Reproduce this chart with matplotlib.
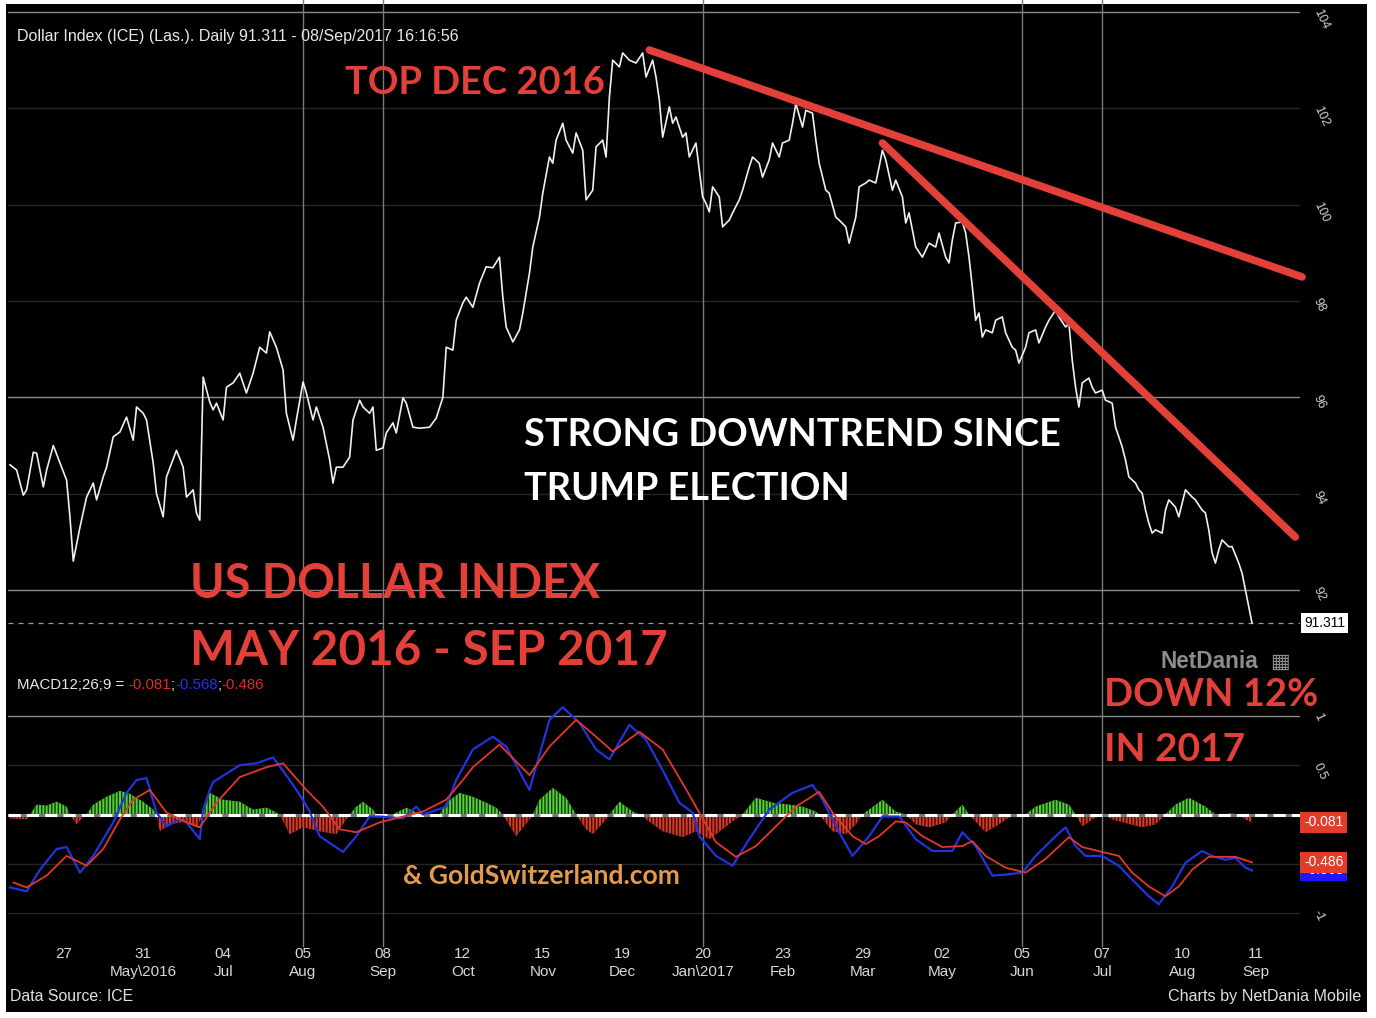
import numpy as np
import matplotlib
matplotlib.use('Agg')
import matplotlib.pyplot as plt
from matplotlib.patches import Rectangle
from matplotlib.transforms import blended_transform_factory as blend

plt.rcParams['font.family'] = ['Liberation Sans', 'DejaVu Sans']
plt.rcParams['hatch.linewidth'] = 1.0

W, H, DPI = 1376, 1018, 100

START = '2016-04-05'   # trading day 0 of the series

# ---- Dollar index, daily close (trading day index, value) ----
price_day = [0, 2, 4, 5, 7, 8, 10, 11, 13, 15,
             17, 18, 19, 21, 23, 25, 26, 28, 29, 31,
             33, 35, 37, 38, 40, 41, 43, 44, 46, 47,
             50, 52, 53, 55, 56, 57, 58, 60, 61, 62,
             64, 65, 67, 69, 71, 73, 75, 77, 78, 80,
             82, 83, 85, 86, 88, 89, 91, 92, 94, 96,
             97, 98, 100, 102, 103, 105, 106, 108, 109, 110,
             112, 113, 115, 116, 118, 119, 121, 123, 126, 128,
             130, 131, 133, 134, 136, 137, 139, 141, 143, 145,
             147, 148, 149, 151, 153, 154, 156, 157, 159, 160,
             162, 163, 164, 166, 167, 169, 170, 172, 173, 175,
             176, 178, 179, 180, 181, 183, 184, 186, 188, 190,
             191, 193, 194, 195, 196, 198, 199, 200, 202, 203,
             204, 206, 207, 208, 209, 210, 211, 213, 214, 216,
             217, 219, 220, 222, 223, 225, 226, 228, 229, 231,
             232, 234, 235, 236, 238, 239, 241, 242, 243, 245,
             246, 248, 249, 251, 252, 254, 255, 257, 258, 260,
             261, 262, 263, 265, 266, 268, 269, 270, 272, 274,
             276, 278, 279, 281, 282, 283, 284, 286, 287, 288,
             289, 290, 291, 292, 293, 295, 296, 298, 299, 301,
             302, 303, 305, 306, 308, 309, 311, 312, 314, 315,
             317, 318, 319, 320, 321, 322, 324, 325, 326, 328,
             329, 331, 332, 333, 334, 335, 336, 338, 339, 340,
             341, 342, 343, 344, 346, 347, 348, 350, 351, 352,
             353, 355, 356, 358, 359, 360, 361, 362, 363, 364,
             366, 367, 369, 370, 371, 372, 373]
price = [94.60, 94.49, 93.97, 94.08, 94.86, 94.84, 94.14, 94.49, 95.00, 94.64,
         94.28, 93.52, 92.60, 93.30, 93.93, 94.22, 93.87, 94.35, 94.55, 95.18,
         95.28, 95.59, 95.11, 95.80, 95.67, 95.53, 94.64, 94.00, 93.52, 94.35,
         94.90, 94.55, 93.93, 94.08, 93.60, 93.45, 96.42, 95.90, 95.74, 95.88,
         95.53, 96.21, 96.30, 96.50, 96.09, 96.50, 97.04, 96.92, 97.36, 97.04,
         96.57, 95.67, 95.11, 95.53, 96.32, 96.09, 95.53, 95.80, 95.38, 94.70,
         94.22, 94.55, 94.55, 94.76, 95.53, 95.94, 95.80, 95.67, 95.80, 94.90,
         94.95, 95.26, 95.47, 95.26, 95.99, 95.88, 95.38, 95.36, 95.38, 95.57,
         96.00, 97.04, 96.98, 97.60, 97.96, 98.08, 97.87, 98.37, 98.71, 98.69,
         98.91, 98.08, 97.46, 97.15, 97.40, 97.75, 98.58, 99.12, 99.74, 100.24,
         100.99, 100.86, 101.34, 101.69, 101.34, 101.07, 101.49, 101.13, 100.10, 100.30,
         101.20, 101.34, 100.99, 102.23, 103.00, 102.86, 103.15, 103.00, 102.94, 103.15,
         102.65, 103.00, 102.65, 102.17, 101.40, 102.03, 101.69, 101.82, 101.40, 101.49,
         100.99, 101.28, 100.72, 100.16, 100.03, 99.85, 100.37, 100.16, 99.54, 99.68,
         99.83, 100.10, 100.30, 100.78, 100.99, 100.86, 100.57, 100.93, 101.28, 100.99,
         101.28, 101.34, 101.69, 102.10, 101.61, 101.96, 101.90, 101.34, 100.86, 100.30,
         100.24, 99.74, 99.68, 99.54, 99.20, 99.74, 100.37, 100.45, 100.51, 100.45,
         100.78, 101.13, 100.93, 100.30, 100.51, 100.16, 99.62, 99.83, 99.12, 98.91,
         99.20, 99.12, 99.41, 98.91, 98.79, 99.27, 99.62, 99.64, 99.41, 98.91,
         98.29, 97.60, 97.75, 97.25, 97.40, 97.34, 97.60, 97.67, 97.34, 97.04,
         96.98, 96.71, 97.04, 97.34, 97.40, 97.13, 97.46, 97.60, 97.81, 97.67,
         97.46, 97.54, 96.77, 96.21, 95.80, 96.30, 96.40, 96.21, 96.09, 96.15,
         95.94, 95.88, 95.38, 95.18, 94.97, 94.70, 94.35, 94.22, 94.08, 94.01,
         93.66, 93.39, 93.18, 93.25, 93.18, 93.66, 93.87, 93.72, 93.52, 93.80,
         94.08, 93.93, 93.87, 93.66, 93.60, 93.25, 92.77, 92.56, 92.83, 93.04,
         92.90, 92.90, 92.56, 92.35, 92.00, 91.65, 91.311]
last_price = 91.311

# ---- MACD(12,26,9) ----
macd_day = [0, 5, 9, 14, 17, 21, 25, 31, 35, 38,
            41, 44, 47, 51, 53, 57, 58, 60, 61, 69,
            74, 79, 84, 87, 90, 93, 100, 104, 108, 111,
            118, 122, 124, 131, 134, 139, 145, 149, 156, 162,
            166, 171, 176, 180, 186, 191, 196, 201, 205, 207,
            212, 217, 222, 228, 235, 241, 244, 249, 253, 258,
            262, 267, 272, 277, 283, 286, 290, 295, 299, 304,
            308, 314, 317, 320, 323, 328, 333, 337, 342, 345,
            349, 353, 358, 361, 365, 368, 371, 373]
macd = [-0.74, -0.78, -0.56, -0.35, -0.33, -0.59, -0.42, -0.08, 0.22, 0.35,
        0.37, 0.02, -0.12, -0.05, -0.08, -0.25, 0.05, 0.25, 0.33, 0.50,
        0.52, 0.58, 0.35, 0.20, 0.03, -0.22, -0.38, -0.22, -0.02, -0.02,
        -0.04, 0.08, 0.00, 0.08, 0.35, 0.66, 0.79, 0.69, 0.25, 0.96,
        1.09, 0.93, 0.66, 0.56, 0.91, 0.76, 0.45, 0.12, 0.02, -0.22,
        -0.42, -0.52, -0.25, 0.05, 0.22, 0.30, 0.15, -0.18, -0.42, -0.22,
        -0.02, -0.02, -0.25, -0.37, -0.37, -0.18, -0.32, -0.62, -0.61, -0.59,
        -0.42, -0.22, -0.13, -0.32, -0.42, -0.42, -0.52, -0.66, -0.83, -0.91,
        -0.73, -0.49, -0.37, -0.42, -0.46, -0.44, -0.54, -0.568]

signal_day = [1, 5, 11, 17, 23, 28, 33, 37, 42, 47,
              53, 57, 60, 62, 69, 77, 82, 89, 94, 99,
              104, 111, 118, 124, 131, 136, 139, 147, 156, 162,
              170, 176, 181, 189, 196, 204, 207, 212, 218, 224,
              230, 236, 243, 247, 253, 257, 261, 266, 269, 274,
              280, 286, 289, 293, 299, 305, 311, 318, 322, 328,
              333, 337, 342, 347, 351, 355, 360, 365, 368, 373]
signal = [-0.69, -0.74, -0.62, -0.42, -0.52, -0.35, -0.05, 0.15, 0.25, 0.02,
          -0.08, -0.13, 0.02, 0.12, 0.38, 0.48, 0.52, 0.25, 0.08, -0.15,
          -0.18, -0.08, -0.02, 0.03, 0.15, 0.35, 0.48, 0.71, 0.40, 0.69,
          0.96, 0.79, 0.64, 0.84, 0.66, 0.20, 0.02, -0.28, -0.43, -0.32,
          -0.12, 0.08, 0.23, 0.02, -0.22, -0.30, -0.22, -0.07, -0.08, -0.22,
          -0.33, -0.32, -0.27, -0.42, -0.54, -0.59, -0.45, -0.23, -0.33, -0.38,
          -0.42, -0.59, -0.73, -0.83, -0.73, -0.56, -0.43, -0.43, -0.43, -0.486]

hist_day = [0, 5, 6, 8, 11, 14, 17, 18, 20, 22,
            23, 25, 29, 33, 36, 40, 43, 44, 45, 48,
            53, 56, 58, 60, 64, 69, 73, 77, 80, 81,
            84, 88, 93, 98, 102, 104, 106, 109, 110, 113,
            115, 119, 122, 126, 129, 131, 135, 139, 143, 146,
            148, 152, 156, 157, 159, 163, 167, 170, 173, 175,
            179, 180, 183, 187, 189, 196, 202, 206, 210, 214,
            217, 220, 224, 229, 234, 238, 242, 243, 247, 251,
            254, 256, 262, 266, 269, 272, 276, 281, 283, 286,
            288, 293, 297, 300, 305, 308, 314, 318, 320, 322,
            326, 329, 331, 340, 344, 347, 350, 354, 359, 362,
            367, 369, 371, 373]
hist = [-0.04, -0.05, 0.0, 0.10, 0.09, 0.13, 0.08, 0.0, -0.10, -0.02,
        0.0, 0.10, 0.18, 0.24, 0.21, 0.13, 0.05, 0.0, -0.17, -0.10,
        -0.07, -0.13, 0.0, 0.22, 0.15, 0.13, 0.05, 0.07, 0.02, 0.0,
        -0.20, -0.13, -0.17, -0.20, 0.0, 0.08, 0.13, 0.05, 0.0, -0.02,
        0.0, 0.07, 0.02, -0.02, 0.0, 0.12, 0.22, 0.18, 0.12, 0.07,
        0.0, -0.22, -0.05, 0.0, 0.15, 0.27, 0.17, 0.0, -0.15, -0.20,
        -0.05, 0.0, 0.13, 0.03, 0.0, -0.17, -0.23, -0.17, -0.25, -0.15,
        -0.07, 0.0, 0.17, 0.12, 0.10, 0.08, 0.03, 0.0, -0.17, -0.20,
        -0.10, 0.0, 0.15, 0.03, 0.0, -0.10, -0.13, -0.08, 0.0, 0.10,
        0.0, -0.18, -0.10, -0.03, 0.0, 0.08, 0.15, 0.10, 0.0, -0.12,
        -0.03, -0.01, -0.05, -0.13, -0.10, 0.0, 0.10, 0.17, 0.08, 0.0,
        0.01, 0.0, -0.05, -0.081]

# hand-drawn trend lines (trading day, price)
trend_top_day = [192, 388]
trend_top_val = [103.21, 98.50]
trend_low_day = [262, 386]
trend_low_val = [101.28, 93.10]

tick_dates = ['2016-04-27', '2016-05-31', '2016-07-04', '2016-08-05', '2016-09-08',
              '2016-10-12', '2016-11-15', '2016-12-19', '2017-01-20', '2017-02-23',
              '2017-03-29', '2017-05-02', '2017-06-05', '2017-07-07', '2017-08-10',
              '2017-09-11']
tick_labels = ['27', '31\nMay\\2016', '04\nJul', '05\nAug', '08\nSep', '12\nOct',
               '15\nNov', '19\nDec', '20\nJan\\2017', '23\nFeb', '29\nMar', '02\nMay',
               '05\nJun', '07\nJul', '10\nAug', '11\nSep']
grid_dates = ['2016-08-05', '2016-09-08', '2017-01-20', '2017-06-05', '2017-07-07']

price_ticks = [92, 94, 96, 98, 100, 102, 104]
macd_ticks = [-1, -0.5, 0.5, 1]
macd_tick_labels = ['-1', '-0.5', '0.5', '1']

tick_pos = np.busday_count(START, tick_dates)
grid_pos = np.busday_count(START, grid_dates)

RED = '#e3403a'
GRID = '#8a8a8a'
FAINT = '#262626'


def box(l, t, r, b):
    return [l / W, 1 - b / H, (r - l) / W, (b - t) / H]


fig = plt.figure(figsize=(W / DPI, H / DPI), dpi=DPI, facecolor='white')
fig.patches.append(Rectangle((6 / W, 6 / H), 1361 / W, 1008 / H, transform=fig.transFigure,
                             facecolor='black', edgecolor='none', zorder=-10))
rend = fig.canvas.get_renderer()

ax1 = fig.add_axes(box(8, 5, 1300, 630))
ax2 = fig.add_axes(box(8, 630, 1300, 935))
for ax in (ax1, ax2):
    ax.set_facecolor('black')
    for s in ax.spines.values():
        s.set_visible(False)
    ax.set_xlim(-0.6, 387.4)
    ax.yaxis.tick_right()
    ax.tick_params(axis='y', length=0, labelsize=9, labelcolor='#d0d0d0',
                   labelrotation=-65, pad=8)

# ---- price panel ----
ax1.set_ylim(91.17, 104.145)
ax1.set_xticks([])
ax1.set_yticks(price_ticks, [str(v) for v in price_ticks])
for v in price_ticks:
    bright = v in (92, 96, 104)
    ax1.axhline(v, color=GRID if bright else FAINT, lw=1, zorder=1)
for d in grid_pos:
    ax1.axvline(d, color='#7a7a7a', lw=1, ymax=1.01, clip_on=False, zorder=1)
ax1.axhline(last_price, color='#9a9a9a', lw=0.9, dashes=(4, 4), zorder=1)
ax1.plot(price_day, price, color='#f0f0f0', lw=1.2, zorder=3)
ax1.plot(trend_top_day, trend_top_val, color=RED, lw=5.5, solid_capstyle='round',
         clip_on=False, zorder=4)
ax1.plot(trend_low_day, trend_low_val, color=RED, lw=5.5, solid_capstyle='round',
         clip_on=False, zorder=4)
ax1.text(1.003, last_price, f'{last_price:.3f}', transform=blend(ax1.transAxes, ax1.transData),
         ha='left', va='center', fontsize=10, color='black', clip_on=False, zorder=6,
         bbox=dict(boxstyle='square,pad=0.2', fc='white', ec='none'))

# ---- MACD panel ----
ax2.set_ylim(-1.223, 1.873)
ax2.set_yticks(macd_ticks, macd_tick_labels)
ax2.axhline(1, color=GRID, lw=1, zorder=1)
for v in (0.5, -0.5, -1):
    ax2.axhline(v, color=FAINT, lw=1, zorder=1)
for d in grid_pos:
    ax2.axvline(d, color='#7a7a7a', lw=1, ymin=-0.035, ymax=1, clip_on=False, zorder=1)

hd = np.array(hist_day)
hv = np.array(hist)
ax2.fill_between(hd, 0, hv, where=hv >= 0, interpolate=True, facecolor='#58d03a',
                 edgecolor='#0e3a08', hatch='|||||', linewidth=0, zorder=2)
ax2.fill_between(hd, 0, hv, where=hv <= 0, interpolate=True, facecolor='#d63b2a',
                 edgecolor='#3a0c06', hatch='|||||', linewidth=0, zorder=2)
ax2.axhline(0, color='#777777', lw=2.2, zorder=3)
ax2.axhline(0, color='white', lw=2.2, dashes=(4, 2), zorder=3)
ax2.plot(macd_day, macd, color='#2233dd', lw=1.6, zorder=4)
ax2.plot(signal_day, signal, color='#e2372a', lw=1.3, zorder=5)

ax2.set_xticks(tick_pos, tick_labels)
ax2.tick_params(axis='x', length=0, pad=9, labelsize=11, labelcolor='#d8d8d8')
for lab in ax2.get_xticklabels():
    lab.set_linespacing(1.3)

tr2 = blend(ax2.transAxes, ax2.transData)
for val, fc in ((macd[-1], '#1a1aff'), (signal[-1], '#e23c2c'), (hist[-1], '#e23c2c')):
    ax2.text(1.003, val, f'{val:.3f}', transform=tr2, ha='left', va='center', fontsize=10,
             color='white', clip_on=False, zorder=7,
             bbox=dict(boxstyle='square,pad=0.25', fc=fc, ec='none'))


# ---- text ----
def ftext(x, y, s, **kw):
    return fig.text(x / W, 1 - y / H, s, **kw)


def fit_text(s, x0, x1, base, color, family='Lato', weight='bold'):
    t = ftext(x0, base, s, ha='left', va='baseline', color=color, fontsize=20,
              family=family, fontweight=weight)
    w = t.get_window_extent(renderer=rend).width
    t.set_fontsize(20 * (x1 - x0) / w)
    return t


fit_text('Dollar Index (ICE) (Las.). Daily 91.311 - 08/Sep/2017 16:16:56', 17, 459, 41,
         '#e8e8e8', family='Liberation Sans', weight='normal')

x = 17
for s, c in (('MACD12;26;9 = ', '#e8e8e8'), (f'{hist[-1]:.3f}', '#e02a20'), (';', '#e8e8e8'),
             (f'{macd[-1]:.3f}', '#2233ee'), (';', '#e8e8e8'), (f'{signal[-1]:.3f}', '#e02a20')):
    t = ftext(x, 689, s, fontsize=10.8, color=c, va='baseline')
    x += t.get_window_extent(renderer=rend).width

fit_text('TOP DEC 2016', 345, 605, 94, RED)
fit_text('STRONG DOWNTREND SINCE', 524, 1060, 446, 'white')
fit_text('TRUMP ELECTION', 524, 850, 500, 'white')
fit_text('US DOLLAR INDEX', 190, 600, 598, RED)
fit_text('MAY 2016 - SEP 2017', 190, 667, 665, RED)
fit_text('DOWN 12%', 1104, 1318, 706, RED)
fit_text('IN 2017', 1104, 1245, 761, RED)
fit_text('& GoldSwitzerland.com', 403, 680, 884, '#e39a4a')
fit_text('NetDania', 1160, 1258, 668, '#8c8c8c', family='Liberation Sans')
ftext(1270, 668, '\u25a6', fontsize=15, color='#8c8c8c', va='baseline', family='DejaVu Sans')

fit_text('Data Source: ICE', 10, 133, 1001, '#e0e0e0', family='Liberation Sans', weight='normal')
t = fit_text('Charts by NetDania Mobile', 1168, 1360, 1001, '#e0e0e0',
             family='Liberation Sans', weight='normal')

fig.savefig('out.png', dpi=DPI, facecolor='white')
